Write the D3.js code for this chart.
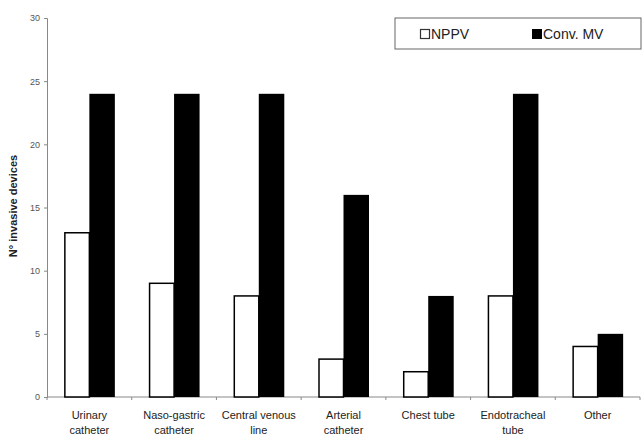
<!DOCTYPE html>
<html><head><meta charset="utf-8">
<script src="https://cdn.jsdelivr.net/npm/d3@7"></script>
<style>body{margin:0;background:#fff;}svg{display:block;}</style>
</head><body>
<svg id="c" width="642" height="436"></svg>
<script>
const categories = [["Urinary","catheter"],["Naso-gastric","catheter"],["Central venous","line"],["Arterial","catheter"],["Chest tube"],["Endotracheal","tube"],["Other"]];
const nppv = [13, 9, 8, 3, 2, 8, 4];
const convMV = [24, 24, 24, 16, 8, 24, 5];
const yTicks = [0, 5, 10, 15, 20, 25, 30];
const seriesNames = ["NPPV", "Conv. MV"];

const svg = d3.select("#c");
const x0 = 47, x1 = 640, yTop = 18, yBot = 397;
const x = d3.scaleBand().domain(d3.range(categories.length)).range([x0, x1]).paddingInner(0).paddingOuter(0);
const y = d3.scaleLinear().domain([0, 30]).range([yBot, yTop]);
const bw = 24.5;

// axes
const yAxis = d3.axisLeft(y).tickValues(yTicks).tickSize(3).tickPadding(4);
const gy = svg.append("g").attr("transform", `translate(${x0},0)`).call(yAxis);
gy.select(".domain").attr("stroke", "#888");
gy.selectAll(".tick line").attr("stroke", "#888");
gy.selectAll(".tick text").attr("fill", "#555").attr("font-family", "Liberation Sans, Arial, sans-serif").attr("font-size", 9);

const gx = svg.append("g").attr("transform", `translate(0,${yBot})`);
gx.append("line").attr("x1", x0).attr("x2", x1).attr("stroke", "#888");
gx.selectAll("line.t").data(d3.range(categories.length + 1)).join("line").attr("class", "t")
  .attr("x1", i => x0 + i * x.bandwidth()).attr("x2", i => x0 + i * x.bandwidth())
  .attr("y1", 0).attr("y2", 3).attr("stroke", "#888");

// bars
const g = svg.append("g");
g.selectAll("rect.n").data(nppv).join("rect").attr("class", "n")
  .attr("x", (d, i) => x(i) + x.bandwidth() / 2 - bw)
  .attr("y", d => y(d)).attr("width", bw).attr("height", d => yBot - y(d))
  .attr("fill", "#fff").attr("stroke", "#000").attr("stroke-width", 1.5);
g.selectAll("rect.c").data(convMV).join("rect").attr("class", "c")
  .attr("x", (d, i) => x(i) + x.bandwidth() / 2)
  .attr("y", d => y(d)).attr("width", bw + 1).attr("height", d => yBot - y(d))
  .attr("fill", "#000");

// category labels
const lab = svg.append("g").attr("font-family", "Liberation Sans, Arial, sans-serif").attr("font-size", 11).attr("fill", "#222").attr("text-anchor", "middle");
categories.forEach((lines, i) => {
  lines.forEach((t, j) => {
    lab.append("text").attr("x", x(i) + x.bandwidth() / 2).attr("y", 419 + j * 15).text(t);
  });
});

// y title
svg.append("text").attr("transform", `translate(17,206) rotate(-90)`)
  .attr("text-anchor", "middle").attr("font-family", "Liberation Sans, Arial, sans-serif")
  .attr("font-size", 11).attr("font-weight", "bold").attr("fill", "#222").text("N° invasive devices");

// legend
const lg = svg.append("g");
lg.append("rect").attr("x", 395).attr("y", 18).attr("width", 246).attr("height", 31).attr("fill", "#fff").attr("stroke", "#666");
lg.append("rect").attr("x", 420.5).attr("y", 29.5).attr("width", 9).attr("height", 9).attr("fill", "#fff").attr("stroke", "#333").attr("stroke-width", 1.2);
lg.append("text").attr("x", 431).attr("y", 39).attr("font-family", "Liberation Sans, Arial, sans-serif").attr("font-size", 14).attr("fill", "#222").text(seriesNames[0]);
lg.append("rect").attr("x", 532).attr("y", 29).attr("width", 10).attr("height", 10).attr("fill", "#000");
lg.append("text").attr("x", 543).attr("y", 39).attr("font-family", "Liberation Sans, Arial, sans-serif").attr("font-size", 14).attr("fill", "#222").text(seriesNames[1]);
</script>
</body></html>
